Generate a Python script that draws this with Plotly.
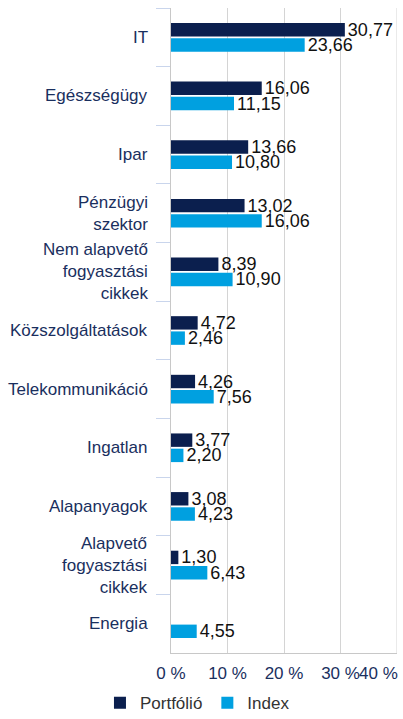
import plotly.graph_objects as go

categories = ["IT", "Egészségügy", "Ipar", "Pénzügyi<br>szektor",
              "Nem alapvető<br>fogyasztási<br>cikkek", "Közszolgáltatások",
              "Telekommunikáció", "Ingatlan", "Alapanyagok",
              "Alapvető<br>fogyasztási<br>cikkek", "Energia"]
portfolio = [30.77, 16.06, 13.66, 13.02, 8.39, 4.72, 4.26, 3.77, 3.08, 1.30, 0.0]
index_vals = [23.66, 11.15, 10.80, 16.06, 10.90, 2.46, 7.56, 2.20, 4.23, 6.43, 4.55]
x_ticks = [0, 10, 20, 30, 40]
x_ticklabels = ["0 %", "10 %", "20 %", "30 %", "40 %"]

def fmt(v):
    return "" if v == 0 else f"{v:.2f}".replace(".", ",")

NAVY = "#0b1f4e"
BLUE = "#00a0e0"
LABEL = "#1a2f5e"

fig = go.Figure()
fig.add_trace(go.Bar(
    y=categories, x=portfolio, orientation="h", name="Portfólió",
    marker=dict(color=NAVY, line=dict(width=0)),
    text=[fmt(v) for v in portfolio], textposition="outside",
    textfont=dict(size=18, color="#111111"), cliponaxis=False,
    constraintext="none",
))
fig.add_trace(go.Bar(
    y=categories, x=index_vals, orientation="h", name="Index",
    marker=dict(color=BLUE, line=dict(width=0)),
    text=[fmt(v) for v in index_vals], textposition="outside",
    textfont=dict(size=18, color="#111111"), cliponaxis=False,
    constraintext="none",
))

for c in categories:
    fig.add_annotation(
        x=0, xref="paper", xshift=-21, y=c, yref="y",
        text=c, showarrow=False, xanchor="right", yanchor="middle",
        align="right", font=dict(size=17, color=LABEL),
    )

# last tick label ("40 %") right-aligned to the plot edge, as in the original
fig.add_annotation(
    x=x_ticks[-1], xref="x", y=0, yref="paper", yshift=-9,
    xshift=3, text=x_ticklabels[-1], showarrow=False,
    xanchor="right", yanchor="top", font=dict(size=17, color=LABEL),
)

fig.update_layout(
    width=403, height=719,
    margin=dict(l=171, r=6, t=8, b=66, autoexpand=False),
    paper_bgcolor="white", plot_bgcolor="white",
    font=dict(family="Liberation Sans, Arial, sans-serif"),
    barmode="group", bargap=0.48, bargroupgap=0.12,
    showlegend=True,
    legend=dict(orientation="h", xref="container", yref="container",
                x=0.49, xanchor="center", y=0.022, yanchor="middle",
                font=dict(size=17, color="#333333"), itemwidth=30,
                traceorder="normal"),
)
fig.update_xaxes(
    range=[0, 40], tickvals=x_ticks[:-1], ticktext=x_ticklabels[:-1],
    showgrid=True, gridcolor="#d4d4d4", gridwidth=1,
    showline=True, linecolor="#c8c8c8", linewidth=1,
    tickfont=dict(size=17, color=LABEL), ticks="", ticklabelstandoff=5,
    zeroline=False, fixedrange=True, automargin=False,
)
fig.add_vline(x=x_ticks[-1], line=dict(color="#d4d4d4", width=1), layer="below")
fig.update_yaxes(
    autorange="reversed", showticklabels=False,
    ticks="outside", tickson="boundaries", ticklen=14,
    tickcolor="#c9d5ec", tickwidth=1,
    showline=True, linecolor="#c8c8c8", linewidth=1,
    showgrid=False, fixedrange=True, automargin=False,
)

fig.write_html("out.html")
